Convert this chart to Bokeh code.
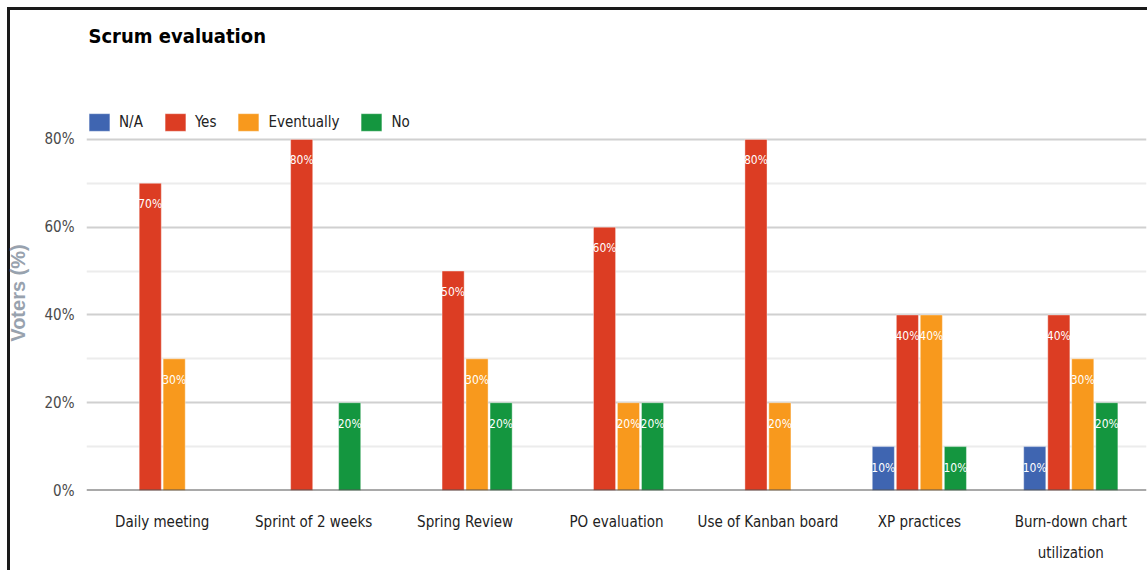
from bokeh.plotting import figure
from bokeh.models import (FactorRange, Range1d, FixedTicker, PrintfTickFormatter, Span,
                          Legend, LegendItem, ColumnDataSource, Title)
from bokeh.transform import dodge
from bokeh.core.properties import value
from bokeh.embed import file_html
from bokeh.resources import INLINE

# Survey results: share of voters per answer, for each Scrum practice
categories = ["Daily meeting", "Sprint of 2 weeks", "Spring Review", "PO evaluation",
              "Use of Kanban board", "XP practices", "Burn-down chart\nutilization"]
na_votes = [0, 0, 0, 0, 0, 10, 10]
yes_votes = [70, 80, 50, 60, 80, 40, 40]
eventually_votes = [30, 0, 30, 20, 20, 40, 30]
no_votes = [0, 20, 20, 20, 0, 10, 20]
series_names = ["N/A", "Yes", "Eventually", "No"]
series_values = [na_votes, yes_votes, eventually_votes, no_votes]
series_colors = ["#3f65b1", "#dc3d23", "#f8991d", "#14963f"]
y_ticks = [0, 20, 40, 60, 80]
y_minor_ticks = [10, 30, 50, 70, 90]

FONT = "Liberation Sans Narrow, Arial Narrow, DejaVu Sans Condensed, Roboto"
BAR_W = 0.146
OFFSETS = [-0.238, -0.079, 0.079, 0.238]

p = figure(x_range=FactorRange(factors=categories, range_padding=0),
           y_range=Range1d(0, 90),
           width=1147, height=570, output_backend="svg", toolbar_location=None,
           min_border_left=86, min_border_right=1, min_border_top=95, min_border_bottom=80)
p.outline_line_color = None
p.background_fill_color = "white"
p.border_fill_color = None
# thin dark frame along the top and left edges of the page
p.styles = {"background": "linear-gradient(#1a1a1a, #1a1a1a) 7px 7px / 100% 3px no-repeat, "
                          "linear-gradient(#1a1a1a, #1a1a1a) 7px 7px / 3px 100% no-repeat, #ffffff"}

p.title.text = "Scrum evaluation"
p.title.align = "left"
p.title.offset = 2
p.title.text_font = FONT
p.title.text_font_style = "bold"
p.title.text_font_size = "20px"
p.title.text_color = "black"
# empty band between the title and the plot area
p.add_layout(Title(text=" ", text_font_size="28px"), "above")

# grid: darker lines every 20 %, lighter ones in between
ticker = FixedTicker(ticks=y_ticks, minor_ticks=y_minor_ticks)
p.yaxis.ticker = ticker
p.ygrid.ticker = ticker
p.ygrid.grid_line_color = "#d0d0d0"
p.ygrid.grid_line_width = 2
p.ygrid.minor_grid_line_color = "#ececec"
p.ygrid.minor_grid_line_width = 2
p.xgrid.grid_line_color = None

p.yaxis.formatter = PrintfTickFormatter(format="%d%%")
p.yaxis.axis_line_color = None
p.yaxis.major_tick_line_color = None
p.yaxis.minor_tick_line_color = None
p.yaxis.major_label_standoff = 6
p.yaxis.major_label_text_font = FONT
p.yaxis.major_label_text_font_size = "15px"
p.yaxis.major_label_text_color = "#4a4a4a"
p.yaxis.axis_label = "Voters (%)"
p.yaxis.axis_label_text_font = "Liberation Sans"
p.yaxis.axis_label_text_font_size = "20px"
p.yaxis.axis_label_text_font_style = "bold"
p.yaxis.axis_label_text_color = "#98a2ae"
p.yaxis.axis_label_standoff = 13

p.xaxis.axis_line_color = None
p.xaxis.major_tick_line_color = None
p.xaxis.minor_tick_line_color = None
p.xaxis.major_label_standoff = 16
p.xaxis.major_label_text_font = FONT
p.xaxis.major_label_text_font_size = "15px"
p.xaxis.major_label_text_color = "#222222"
p.xaxis.major_label_text_line_height = 1.75

items = []
for name, vals, color, off in zip(series_names, series_values, series_colors, OFFSETS):
    src = ColumnDataSource(dict(cat=categories, val=vals))
    r = p.vbar(x=dodge("cat", off, range=p.x_range), top="val", width=BAR_W, source=src,
               fill_color=color, line_color="white", line_alpha=0.4, line_width=1)
    items.append(LegendItem(label=name, renderers=[r]))

    shown = [(c, v) for c, v in zip(categories, vals) if v > 0]
    lbl_src = ColumnDataSource(dict(cat=[c for c, _ in shown], val=[v for _, v in shown],
                                    lbl=[f"{v}%" for _, v in shown]))
    p.text(x=dodge("cat", off, range=p.x_range), y="val", text="lbl", source=lbl_src,
           text_align="center", text_baseline="middle", y_offset=21,
           text_color="white", text_font=value(FONT), text_font_size="12px")

p.add_layout(Span(location=0, dimension="width", line_color="#555555", line_width=2))

legend = Legend(items=items, orientation="horizontal", location=(0, 357),
                glyph_width=26, glyph_height=22, label_standoff=7, spacing=19,
                padding=0, margin=0, border_line_color=None, background_fill_alpha=0,
                label_text_font=FONT, label_text_font_size="15px",
                label_text_color="#222222", label_height=22)
p.add_layout(legend)

open("out.html", "w").write(file_html(p, INLINE))
